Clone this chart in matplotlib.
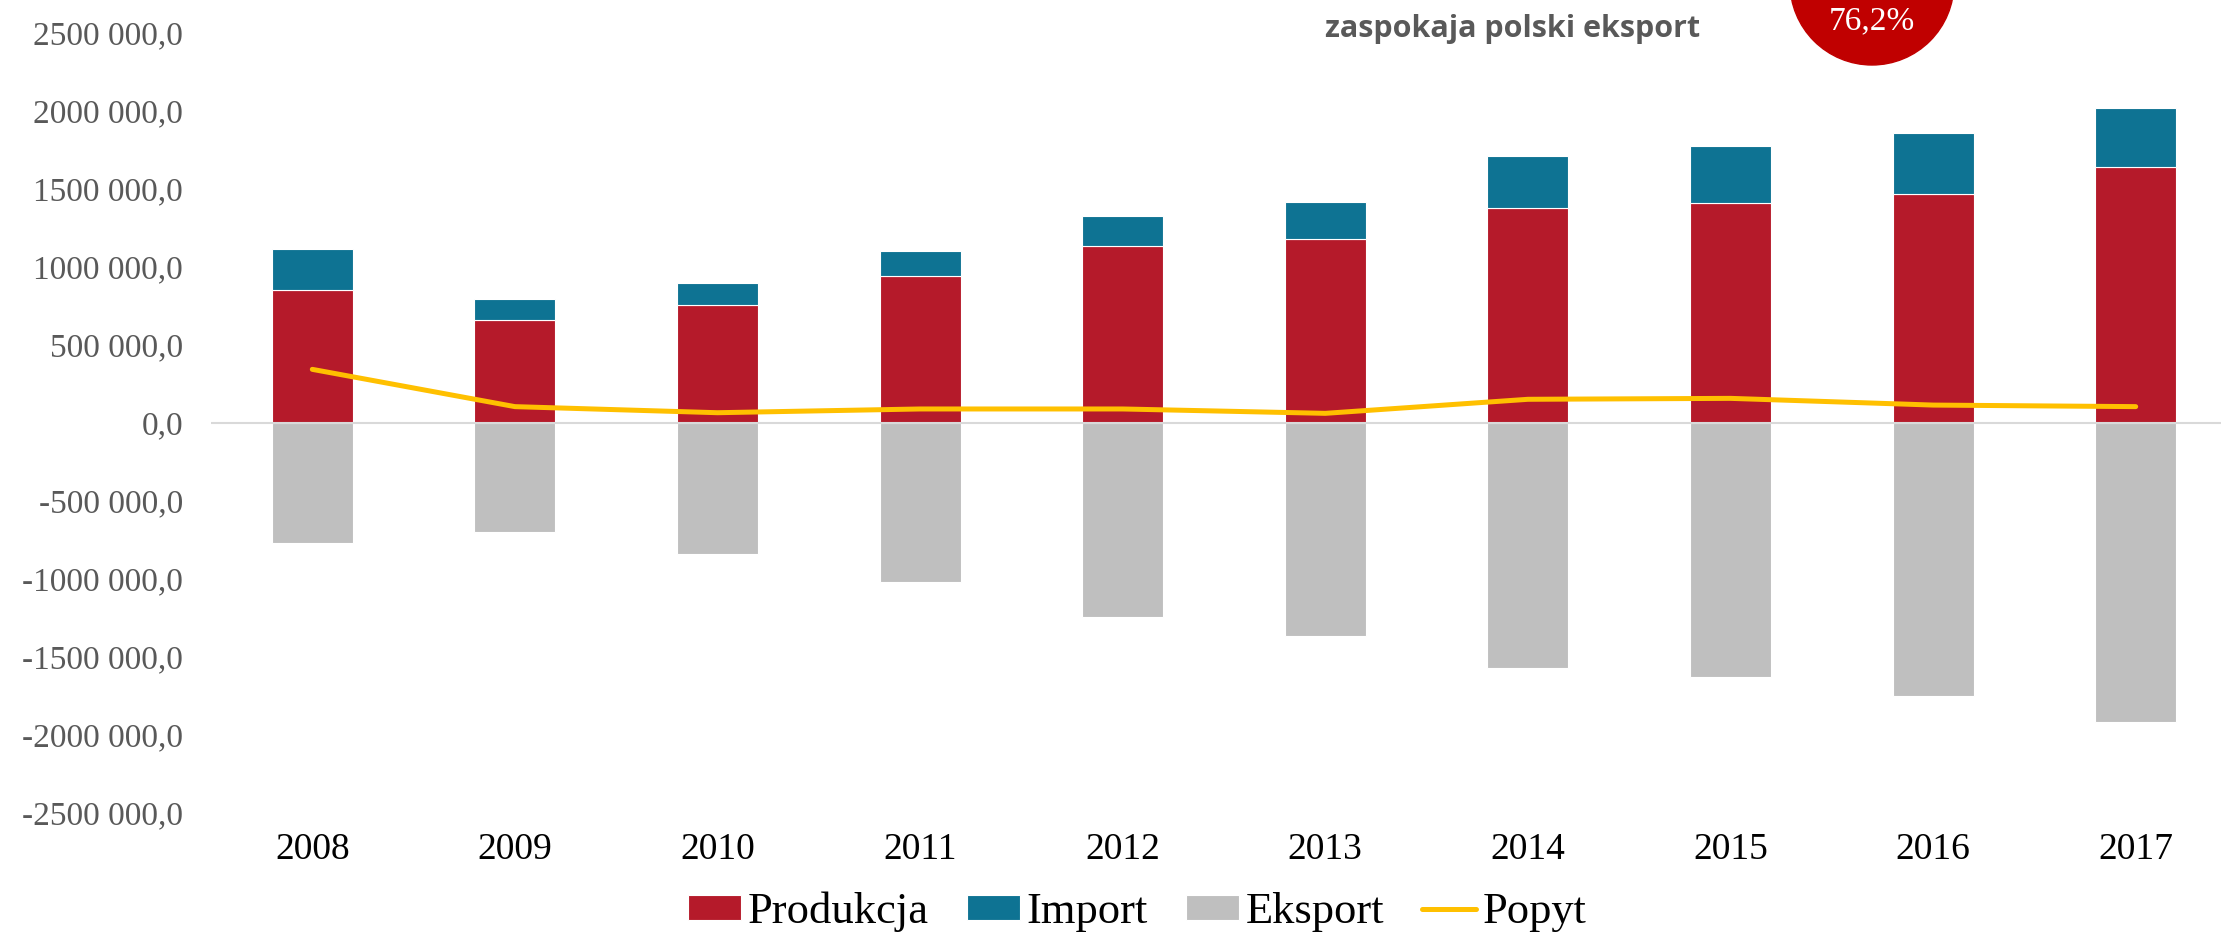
import numpy as np
import matplotlib
matplotlib.use("Agg")
import matplotlib.pyplot as plt
from matplotlib.patches import Ellipse
from matplotlib.ticker import FuncFormatter, MultipleLocator

lata = ["2008", "2009", "2010", "2011", "2012", "2013", "2014", "2015", "2016", "2017"]
produkcja = [853000, 656000, 752000, 938000, 1131000, 1176000, 1374000, 1408000, 1464000, 1637000]
import_ = [262000, 139000, 144000, 161000, 192000, 237000, 336000, 364000, 391000, 378000]
eksport = [-773000, -703000, -840000, -1019000, -1243000, -1369000, -1570000, -1628000, -1752000, -1919000]
popyt = [342000, 103000, 64000, 88000, 88000, 60000, 150000, 156000, 113000, 103000]

C_PROD = "#B51A2A"
C_IMP = "#0E7393"
C_EKS = "#BFBFBF"
C_POP = "#FFC000"

W, H = 2221, 932
fig = plt.figure(figsize=(W / 100, H / 100), dpi=100)
ax = fig.add_axes([211 / W, 1 - 812.7 / H, 2026 / W, 780 / H])

x = np.arange(len(lata))
bw = 0.4
ax.bar(x, produkcja, bw, color=C_PROD, edgecolor="white", linewidth=0.8, label="Produkcja", zorder=2)
ax.bar(x, import_, bw, bottom=produkcja, color=C_IMP, edgecolor="white", linewidth=0.8, label="Import", zorder=2)
ax.bar(x, eksport, bw, color=C_EKS, edgecolor="white", linewidth=0.8, label="Eksport", zorder=2)
ax.axhline(0, color="#D9D9D9", linewidth=1.5, zorder=3)
ax.plot(x, popyt, color=C_POP, linewidth=3.6, solid_capstyle="round", solid_joinstyle="round",
        label="Popyt", zorder=4)

ax.set_xlim(-0.5, 9.5)
ax.set_ylim(-2500000, 2500000)
ax.yaxis.set_major_locator(MultipleLocator(500000))


def fmt(v, pos):
    n = int(round(v))
    if n == 0:
        return "0,0"
    sign = "-" if n < 0 else ""
    head, tail = divmod(abs(n), 1000)
    if head:
        return f"{sign}{head} {tail:03d},0"
    return f"{sign}{tail},0"


ax.yaxis.set_major_formatter(FuncFormatter(fmt))
ax.set_xticks(x)
ax.set_xticklabels(lata)
for s in ax.spines.values():
    s.set_visible(False)
ax.tick_params(axis="y", length=0, pad=20, labelsize=24, labelcolor="#595959")
ax.tick_params(axis="x", length=0, pad=14, labelsize=27, labelcolor="black")
for lab in ax.get_xticklabels() + ax.get_yticklabels():
    lab.set_fontfamily("Liberation Serif")

# legenda pod wykresem: Produkcja, Import, Eksport, Popyt
h, l = ax.get_legend_handles_labels()
h = [h[1], h[2], h[3], h[0]]
l = [l[1], l[2], l[3], l[0]]
fig.legend(h, l, loc="center", bbox_to_anchor=(1137 / W, 1 - 912 / H), ncol=4, frameon=False,
           prop={"family": "Liberation Serif", "size": 32}, handlelength=1.2, handleheight=0.5,
           handletextpad=0.15, columnspacing=0.85, borderaxespad=0)

# napis i czerwone koło u góry
fig.text(1513 / W, 1 - 29 / H, "zaspokaja polski eksport", ha="center", va="center",
         fontsize=22, fontweight="bold", color="#595959", family="Open Sans")
fig.add_artist(Ellipse((1872 / W, 1 + 17 / H), 2 * 82 / W, 2 * 82 / H, transform=fig.transFigure,
                       color="#C00000", zorder=5))
fig.text(1872 / W, 1 - 21 / H, "76,2%", ha="center", va="center", fontsize=24, color="white",
         family="Liberation Serif", zorder=6)

fig.savefig("out.png", dpi=100)
